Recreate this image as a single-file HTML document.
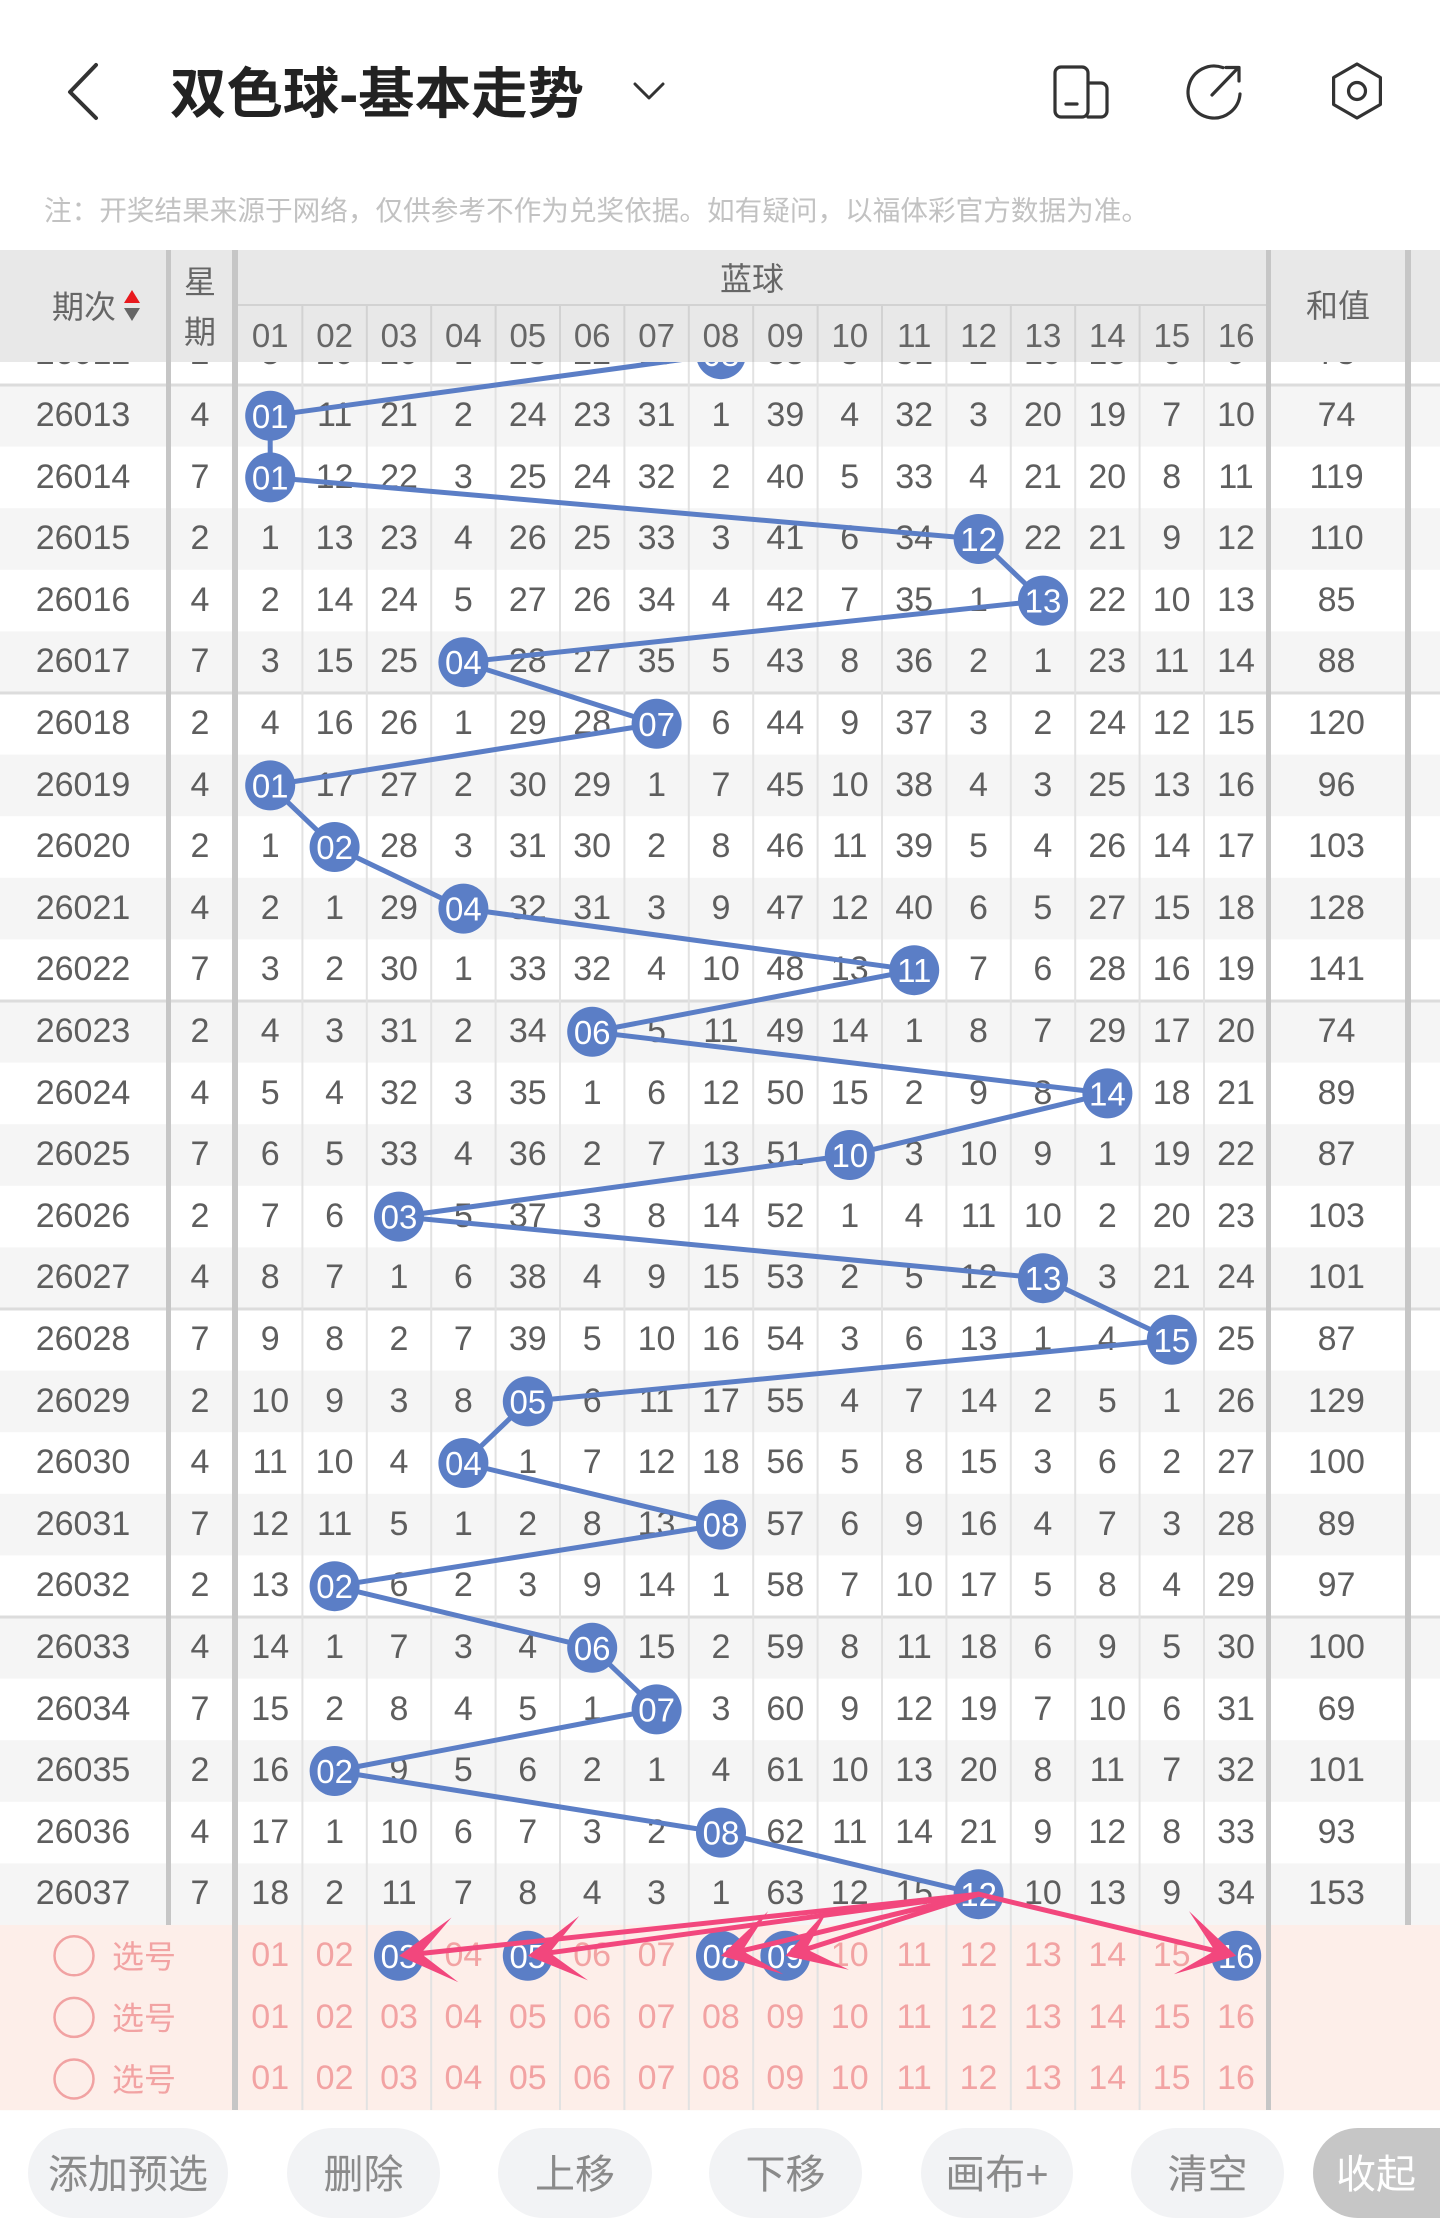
<!DOCTYPE html>
<html><head><meta charset="utf-8"><style>
*{margin:0;padding:0}
html,body{width:1440px;height:2232px;overflow:hidden;background:#fff}
#p{position:relative;width:1440px;height:2232px;overflow:hidden}
svg{position:absolute;left:0;top:0}
.r{position:absolute;left:0;width:1405px;height:61.6px;display:flex;font-family:"Liberation Sans",sans-serif;font-size:34px;color:#5e5e5e;line-height:61.6px;white-space:nowrap;z-index:1}
.r span{flex:none;width:64.4px;text-align:center}
.r span:first-child{width:166px}
.r span:nth-child(2){width:72px;padding-right:4px;box-sizing:border-box}
.r span:nth-child(19){width:136.6px}
.k{color:#f2a3a3}
</style></head><body><div id="p">

<svg width="1440" height="2232" style="z-index:0">
<g fill="#f5f5f5">
<rect x="0" y="385" width="1440" height="61.6"/><rect x="0" y="508.2" width="1440" height="61.6"/><rect x="0" y="631.4" width="1440" height="61.6"/><rect x="0" y="754.6" width="1440" height="61.6"/><rect x="0" y="877.8" width="1440" height="61.6"/><rect x="0" y="1001" width="1440" height="61.6"/><rect x="0" y="1124.2" width="1440" height="61.6"/><rect x="0" y="1247.4" width="1440" height="61.6"/><rect x="0" y="1370.6" width="1440" height="61.6"/><rect x="0" y="1493.8" width="1440" height="61.6"/><rect x="0" y="1617" width="1440" height="61.6"/><rect x="0" y="1740.2" width="1440" height="61.6"/><rect x="0" y="1863.4" width="1440" height="61.6"/>
</g>
<rect x="0" y="1925" width="1440" height="185.2" fill="#fdeee9"/>
<g fill="#dcdcdc">
<rect x="0" y="383.5" width="1440" height="3"/><rect x="0" y="691.5" width="1440" height="3"/><rect x="0" y="999.5" width="1440" height="3"/><rect x="0" y="1307.5" width="1440" height="3"/><rect x="0" y="1615.5" width="1440" height="3"/>
</g>
<path d="M302.4 323V2110M366.8 323V2110M431.2 323V2110M495.6 323V2110M560 323V2110M624.4 323V2110M688.8 323V2110M753.2 323V2110M817.6 323V2110M882 323V2110M946.4 323V2110M1010.8 323V2110M1075.2 323V2110M1139.6 323V2110M1204 323V2110" stroke="#e2e2e2" stroke-width="2" fill="none"/>
<g fill="#c6c6c6">
<rect x="166" y="250" width="5" height="1675"/>
<rect x="232" y="250" width="6" height="1860"/>
<rect x="1266" y="250" width="5" height="1860"/>
<rect x="1405" y="250" width="6" height="1675"/>
</g>
<g fill="none" stroke="#f1a2a2" stroke-width="2.5">
<circle cx="74" cy="1955.8" r="19.5"/><circle cx="74" cy="2017.4" r="19.5"/><circle cx="74" cy="2079" r="19.5"/>
</g>
<g fill="#f2a3a3" font-family="Liberation Sans, Noto Sans CJK SC, sans-serif" font-size="32">
<text x="112" y="1967.8">选号</text><text x="112" y="2029.4">选号</text><text x="112" y="2091">选号</text>
</g>
</svg>

<div class="r" style="top:323.4px"><span>26012</span><span>2</span><span>8</span><span>10</span><span>20</span><span>1</span><span>23</span><span>22</span><span>30</span><span></span><span>38</span><span>3</span><span>31</span><span>2</span><span>19</span><span>18</span><span>6</span><span>9</span><span>73</span></div>
<div class="r" style="top:385px"><span>26013</span><span>4</span><span></span><span>11</span><span>21</span><span>2</span><span>24</span><span>23</span><span>31</span><span>1</span><span>39</span><span>4</span><span>32</span><span>3</span><span>20</span><span>19</span><span>7</span><span>10</span><span>74</span></div>
<div class="r" style="top:446.6px"><span>26014</span><span>7</span><span></span><span>12</span><span>22</span><span>3</span><span>25</span><span>24</span><span>32</span><span>2</span><span>40</span><span>5</span><span>33</span><span>4</span><span>21</span><span>20</span><span>8</span><span>11</span><span>119</span></div>
<div class="r" style="top:508.2px"><span>26015</span><span>2</span><span>1</span><span>13</span><span>23</span><span>4</span><span>26</span><span>25</span><span>33</span><span>3</span><span>41</span><span>6</span><span>34</span><span></span><span>22</span><span>21</span><span>9</span><span>12</span><span>110</span></div>
<div class="r" style="top:569.8px"><span>26016</span><span>4</span><span>2</span><span>14</span><span>24</span><span>5</span><span>27</span><span>26</span><span>34</span><span>4</span><span>42</span><span>7</span><span>35</span><span>1</span><span></span><span>22</span><span>10</span><span>13</span><span>85</span></div>
<div class="r" style="top:631.4px"><span>26017</span><span>7</span><span>3</span><span>15</span><span>25</span><span></span><span>28</span><span>27</span><span>35</span><span>5</span><span>43</span><span>8</span><span>36</span><span>2</span><span>1</span><span>23</span><span>11</span><span>14</span><span>88</span></div>
<div class="r" style="top:693px"><span>26018</span><span>2</span><span>4</span><span>16</span><span>26</span><span>1</span><span>29</span><span>28</span><span></span><span>6</span><span>44</span><span>9</span><span>37</span><span>3</span><span>2</span><span>24</span><span>12</span><span>15</span><span>120</span></div>
<div class="r" style="top:754.6px"><span>26019</span><span>4</span><span></span><span>17</span><span>27</span><span>2</span><span>30</span><span>29</span><span>1</span><span>7</span><span>45</span><span>10</span><span>38</span><span>4</span><span>3</span><span>25</span><span>13</span><span>16</span><span>96</span></div>
<div class="r" style="top:816.2px"><span>26020</span><span>2</span><span>1</span><span></span><span>28</span><span>3</span><span>31</span><span>30</span><span>2</span><span>8</span><span>46</span><span>11</span><span>39</span><span>5</span><span>4</span><span>26</span><span>14</span><span>17</span><span>103</span></div>
<div class="r" style="top:877.8px"><span>26021</span><span>4</span><span>2</span><span>1</span><span>29</span><span></span><span>32</span><span>31</span><span>3</span><span>9</span><span>47</span><span>12</span><span>40</span><span>6</span><span>5</span><span>27</span><span>15</span><span>18</span><span>128</span></div>
<div class="r" style="top:939.4px"><span>26022</span><span>7</span><span>3</span><span>2</span><span>30</span><span>1</span><span>33</span><span>32</span><span>4</span><span>10</span><span>48</span><span>13</span><span></span><span>7</span><span>6</span><span>28</span><span>16</span><span>19</span><span>141</span></div>
<div class="r" style="top:1001px"><span>26023</span><span>2</span><span>4</span><span>3</span><span>31</span><span>2</span><span>34</span><span></span><span>5</span><span>11</span><span>49</span><span>14</span><span>1</span><span>8</span><span>7</span><span>29</span><span>17</span><span>20</span><span>74</span></div>
<div class="r" style="top:1062.6px"><span>26024</span><span>4</span><span>5</span><span>4</span><span>32</span><span>3</span><span>35</span><span>1</span><span>6</span><span>12</span><span>50</span><span>15</span><span>2</span><span>9</span><span>8</span><span></span><span>18</span><span>21</span><span>89</span></div>
<div class="r" style="top:1124.2px"><span>26025</span><span>7</span><span>6</span><span>5</span><span>33</span><span>4</span><span>36</span><span>2</span><span>7</span><span>13</span><span>51</span><span></span><span>3</span><span>10</span><span>9</span><span>1</span><span>19</span><span>22</span><span>87</span></div>
<div class="r" style="top:1185.8px"><span>26026</span><span>2</span><span>7</span><span>6</span><span></span><span>5</span><span>37</span><span>3</span><span>8</span><span>14</span><span>52</span><span>1</span><span>4</span><span>11</span><span>10</span><span>2</span><span>20</span><span>23</span><span>103</span></div>
<div class="r" style="top:1247.4px"><span>26027</span><span>4</span><span>8</span><span>7</span><span>1</span><span>6</span><span>38</span><span>4</span><span>9</span><span>15</span><span>53</span><span>2</span><span>5</span><span>12</span><span></span><span>3</span><span>21</span><span>24</span><span>101</span></div>
<div class="r" style="top:1309px"><span>26028</span><span>7</span><span>9</span><span>8</span><span>2</span><span>7</span><span>39</span><span>5</span><span>10</span><span>16</span><span>54</span><span>3</span><span>6</span><span>13</span><span>1</span><span>4</span><span></span><span>25</span><span>87</span></div>
<div class="r" style="top:1370.6px"><span>26029</span><span>2</span><span>10</span><span>9</span><span>3</span><span>8</span><span></span><span>6</span><span>11</span><span>17</span><span>55</span><span>4</span><span>7</span><span>14</span><span>2</span><span>5</span><span>1</span><span>26</span><span>129</span></div>
<div class="r" style="top:1432.2px"><span>26030</span><span>4</span><span>11</span><span>10</span><span>4</span><span></span><span>1</span><span>7</span><span>12</span><span>18</span><span>56</span><span>5</span><span>8</span><span>15</span><span>3</span><span>6</span><span>2</span><span>27</span><span>100</span></div>
<div class="r" style="top:1493.8px"><span>26031</span><span>7</span><span>12</span><span>11</span><span>5</span><span>1</span><span>2</span><span>8</span><span>13</span><span></span><span>57</span><span>6</span><span>9</span><span>16</span><span>4</span><span>7</span><span>3</span><span>28</span><span>89</span></div>
<div class="r" style="top:1555.4px"><span>26032</span><span>2</span><span>13</span><span></span><span>6</span><span>2</span><span>3</span><span>9</span><span>14</span><span>1</span><span>58</span><span>7</span><span>10</span><span>17</span><span>5</span><span>8</span><span>4</span><span>29</span><span>97</span></div>
<div class="r" style="top:1617px"><span>26033</span><span>4</span><span>14</span><span>1</span><span>7</span><span>3</span><span>4</span><span></span><span>15</span><span>2</span><span>59</span><span>8</span><span>11</span><span>18</span><span>6</span><span>9</span><span>5</span><span>30</span><span>100</span></div>
<div class="r" style="top:1678.6px"><span>26034</span><span>7</span><span>15</span><span>2</span><span>8</span><span>4</span><span>5</span><span>1</span><span></span><span>3</span><span>60</span><span>9</span><span>12</span><span>19</span><span>7</span><span>10</span><span>6</span><span>31</span><span>69</span></div>
<div class="r" style="top:1740.2px"><span>26035</span><span>2</span><span>16</span><span></span><span>9</span><span>5</span><span>6</span><span>2</span><span>1</span><span>4</span><span>61</span><span>10</span><span>13</span><span>20</span><span>8</span><span>11</span><span>7</span><span>32</span><span>101</span></div>
<div class="r" style="top:1801.8px"><span>26036</span><span>4</span><span>17</span><span>1</span><span>10</span><span>6</span><span>7</span><span>3</span><span>2</span><span></span><span>62</span><span>11</span><span>14</span><span>21</span><span>9</span><span>12</span><span>8</span><span>33</span><span>93</span></div>
<div class="r" style="top:1863.4px"><span>26037</span><span>7</span><span>18</span><span>2</span><span>11</span><span>7</span><span>8</span><span>4</span><span>3</span><span>1</span><span>63</span><span>12</span><span>15</span><span></span><span>10</span><span>13</span><span>9</span><span>34</span><span>153</span></div>
<div class="r k" style="top:1925px"><span></span><span></span><span>01</span><span>02</span><span></span><span>04</span><span></span><span>06</span><span>07</span><span></span><span></span><span>10</span><span>11</span><span>12</span><span>13</span><span>14</span><span>15</span><span></span></div>
<div class="r k" style="top:1986.6px"><span></span><span></span><span>01</span><span>02</span><span>03</span><span>04</span><span>05</span><span>06</span><span>07</span><span>08</span><span>09</span><span>10</span><span>11</span><span>12</span><span>13</span><span>14</span><span>15</span><span>16</span></div>
<div class="r k" style="top:2048.2px"><span></span><span></span><span>01</span><span>02</span><span>03</span><span>04</span><span>05</span><span>06</span><span>07</span><span>08</span><span>09</span><span>10</span><span>11</span><span>12</span><span>13</span><span>14</span><span>15</span><span>16</span></div>

<svg width="1440" height="2232" style="z-index:2">
<polyline points="721,354.2 270.2,415.8 270.2,477.4 978.6,539 1043,600.6 463.4,662.2 656.6,723.8 270.2,785.4 334.6,847 463.4,908.6 914.2,970.2 592.2,1031.8 1107.4,1093.4 849.8,1155 399,1216.6 1043,1278.2 1171.8,1339.8 527.8,1401.4 463.4,1463 721,1524.6 334.6,1586.2 592.2,1647.8 656.6,1709.4 334.6,1771 721,1832.6 978.6,1894.2" fill="none" stroke="#5b7ec6" stroke-width="5" stroke-linejoin="round"/>
<g fill="#5b7ec6">
<circle cx="721" cy="354.2" r="25"/><circle cx="270.2" cy="415.8" r="25"/><circle cx="270.2" cy="477.4" r="25"/><circle cx="978.6" cy="539" r="25"/><circle cx="1043" cy="600.6" r="25"/><circle cx="463.4" cy="662.2" r="25"/><circle cx="656.6" cy="723.8" r="25"/><circle cx="270.2" cy="785.4" r="25"/><circle cx="334.6" cy="847" r="25"/><circle cx="463.4" cy="908.6" r="25"/><circle cx="914.2" cy="970.2" r="25"/><circle cx="592.2" cy="1031.8" r="25"/><circle cx="1107.4" cy="1093.4" r="25"/><circle cx="849.8" cy="1155" r="25"/><circle cx="399" cy="1216.6" r="25"/><circle cx="1043" cy="1278.2" r="25"/><circle cx="1171.8" cy="1339.8" r="25"/><circle cx="527.8" cy="1401.4" r="25"/><circle cx="463.4" cy="1463" r="25"/><circle cx="721" cy="1524.6" r="25"/><circle cx="334.6" cy="1586.2" r="25"/><circle cx="592.2" cy="1647.8" r="25"/><circle cx="656.6" cy="1709.4" r="25"/><circle cx="334.6" cy="1771" r="25"/><circle cx="721" cy="1832.6" r="25"/><circle cx="978.6" cy="1894.2" r="25"/>
<circle cx="399" cy="1955.8" r="25"/><circle cx="527.8" cy="1955.8" r="25"/><circle cx="721" cy="1955.8" r="25"/><circle cx="785.4" cy="1955.8" r="25"/><circle cx="1236.2" cy="1955.8" r="25"/>
</g>
<g fill="#fff" font-family="Liberation Sans, sans-serif" font-size="33" text-anchor="middle">
<text x="721" y="366.2">08</text><text x="270.2" y="427.8">01</text><text x="270.2" y="489.4">01</text><text x="978.6" y="551">12</text><text x="1043" y="612.6">13</text><text x="463.4" y="674.2">04</text><text x="656.6" y="735.8">07</text><text x="270.2" y="797.4">01</text><text x="334.6" y="859">02</text><text x="463.4" y="920.6">04</text><text x="914.2" y="982.2">11</text><text x="592.2" y="1043.8">06</text><text x="1107.4" y="1105.4">14</text><text x="849.8" y="1167">10</text><text x="399" y="1228.6">03</text><text x="1043" y="1290.2">13</text><text x="1171.8" y="1351.8">15</text><text x="527.8" y="1413.4">05</text><text x="463.4" y="1475">04</text><text x="721" y="1536.6">08</text><text x="334.6" y="1598.2">02</text><text x="592.2" y="1659.8">06</text><text x="656.6" y="1721.4">07</text><text x="334.6" y="1783">02</text><text x="721" y="1844.6">08</text><text x="978.6" y="1906.2">12</text>
<text x="399" y="1967.8">03</text><text x="527.8" y="1967.8">05</text><text x="721" y="1967.8">08</text><text x="785.4" y="1967.8">09</text><text x="1236.2" y="1967.8">16</text>
</g>
<g stroke="#f2477d" stroke-width="5" stroke-linecap="round">
<line x1="978.6" y1="1894.2" x2="420.9" y2="1953.5"/>
<line x1="978.6" y1="1894.2" x2="549.6" y2="1952.8"/>
<line x1="978.6" y1="1894.2" x2="742.4" y2="1950.7"/>
<line x1="978.6" y1="1894.2" x2="806.4" y2="1949.1"/>
<line x1="978.6" y1="1894.2" x2="1214.8" y2="1950.7"/>
</g>
<g fill="#f2477d">
<polygon points="399,1955.8 451.5,1917.5 420.9,1953.5 458.4,1982.2"/>
<polygon points="527.8,1955.8 579.2,1916 549.6,1952.8 588,1980.4"/>
<polygon points="721,1955.8 768.2,1911.1 742.4,1950.7 783.3,1974.3"/>
<polygon points="785.4,1955.8 829.2,1907.7 806.4,1949.1 848.9,1969.7"/>
<polygon points="1236.2,1955.8 1189,1911.1 1214.8,1950.7 1173.9,1974.3"/>
</g>
</svg>

<svg width="1440" height="2232" style="z-index:3">
<rect x="0" y="0" width="1440" height="250" fill="#fff"/>
<polyline points="96,65 70,92 96,118" fill="none" stroke="#333" stroke-width="4" stroke-linecap="round" stroke-linejoin="round"/>
<text x="170" y="113" font-family="Liberation Sans, Noto Sans CJK SC, sans-serif" font-size="55" font-weight="bold" fill="#222" textLength="414" lengthAdjust="spacingAndGlyphs">双色球-基本走势</text>
<polyline points="635,84 649,98 663,84" fill="none" stroke="#333" stroke-width="3" stroke-linecap="round" stroke-linejoin="round"/>
<g fill="none" stroke="#333" stroke-width="3.2" stroke-linecap="round" stroke-linejoin="round">
<rect x="1055" y="67" width="33" height="50" rx="6"/>
<path d="M1088 83H1101A6 6 0 0 1 1107 89V111A6 6 0 0 1 1101 117H1088"/>
<path d="M1066 104H1077"/>
<path d="M1223 67.6A26 26 0 1 0 1240 94"/>
<path d="M1212 95L1238 68M1226 67.5H1239V81"/>
<polygon points="1357,64 1380.4,77.5 1380.4,104.5 1357,118 1333.6,104.5 1333.6,77.5"/>
<circle cx="1357" cy="91" r="8.5"/>
</g>
<text x="44" y="220" font-family="Liberation Sans, Noto Sans CJK SC, sans-serif" font-size="27.5" fill="#c2c2c2" textLength="1105" lengthAdjust="spacingAndGlyphs">注：开奖结果来源于网络，仅供参考不作为兑奖依据。如有疑问，以福体彩官方数据为准。</text>

<rect x="0" y="250" width="1440" height="112" fill="#e8e8e8"/>
<path d="M238 305H1266" stroke="#d2d2d2" stroke-width="2"/>
<path d="M302.4 305V362M366.8 305V362M431.2 305V362M495.6 305V362M560 305V362M624.4 305V362M688.8 305V362M753.2 305V362M817.6 305V362M882 305V362M946.4 305V362M1010.8 305V362M1075.2 305V362M1139.6 305V362M1204 305V362" stroke="#d2d2d2" stroke-width="2" fill="none"/>
<g fill="#c6c6c6">
<rect x="166" y="250" width="5" height="112"/>
<rect x="232" y="250" width="6" height="112"/>
<rect x="1266" y="250" width="5" height="112"/>
<rect x="1405" y="250" width="6" height="112"/>
</g>
<g fill="#666" font-family="Liberation Sans, Noto Sans CJK SC, sans-serif" font-size="32" text-anchor="middle">
<text x="84" y="318">期次</text>
<text x="200" y="293">星</text>
<text x="200" y="343">期</text>
<text x="752" y="290">蓝球</text>
<text x="1338" y="317">和值</text>
</g>
<polygon points="124,303 140,303 132,290" fill="#e8191e"/>
<polygon points="124,308 140,308 132,321" fill="#666"/>
<g fill="#666" font-family="Liberation Sans, sans-serif" font-size="33" text-anchor="middle">
<text x="270.2" y="347">01</text><text x="334.6" y="347">02</text><text x="399" y="347">03</text><text x="463.4" y="347">04</text><text x="527.8" y="347">05</text><text x="592.2" y="347">06</text><text x="656.6" y="347">07</text><text x="721" y="347">08</text><text x="785.4" y="347">09</text><text x="849.8" y="347">10</text><text x="914.2" y="347">11</text><text x="978.6" y="347">12</text><text x="1043" y="347">13</text><text x="1107.4" y="347">14</text><text x="1171.8" y="347">15</text><text x="1236.2" y="347">16</text>
</g>

<g fill="#f2f3f5">
<rect x="28" y="2128" width="200" height="90" rx="45"/>
<rect x="287" y="2128" width="153" height="90" rx="45"/>
<rect x="498" y="2128" width="154" height="90" rx="45"/>
<rect x="709" y="2128" width="153" height="90" rx="45"/>
<rect x="921" y="2128" width="152" height="90" rx="45"/>
<rect x="1131" y="2128" width="153" height="90" rx="45"/>
</g>
<rect x="1313" y="2128" width="200" height="90" rx="45" fill="#c6c6c6"/>
<g fill="#8a8a8a" font-family="Liberation Sans, Noto Sans CJK SC, sans-serif" font-size="40" text-anchor="middle">
<text x="128" y="2188">添加预选</text>
<text x="363.5" y="2188">删除</text>
<text x="575" y="2188">上移</text>
<text x="785.5" y="2188">下移</text>
<text x="997" y="2188">画布+</text>
<text x="1207.5" y="2188">清空</text>
<text x="1376" y="2188" fill="#fff">收起</text>
</g>
</svg>
</div></body></html>
